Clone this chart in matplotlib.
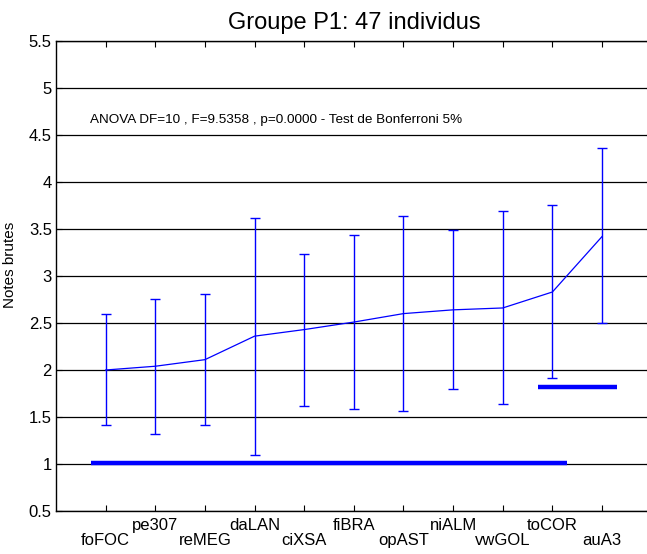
import matplotlib
matplotlib.use("Agg")
import matplotlib.pyplot as plt
from matplotlib.transforms import blended_transform_factory

# ---- data ------------------------------------------------------------------------------------
names = ["foFOC", "pe307", "reMEG", "daLAN", "ciXSA", "fiBRA",
         "opAST", "niALM", "vwGOL", "toCOR", "auA3"]
means = [2.00, 2.04, 2.11, 2.36, 2.43, 2.51, 2.60, 2.64, 2.66, 2.83, 3.42]
upper = [2.60, 2.76, 2.81, 3.62, 3.23, 3.44, 3.64, 3.49, 3.69, 3.76, 4.36]
lower = [1.41, 1.32, 1.41, 1.10, 1.62, 1.59, 1.56, 1.80, 1.64, 1.91, 2.50]

# Bonferroni homogeneous groups: first and last member (1-based), drawn level
grp_first = [1, 10]
grp_last  = [10, 11]
grp_level = [1.01, 1.82]

title = "Groupe P1: 47 individus"
note = "ANOVA DF=10 , F=9.5358 , p=0.0000 - Test de Bonferroni 5%"
yticks = [0.5, 1, 1.5, 2, 2.5, 3, 3.5, 4, 4.5, 5, 5.5]

# ---- figure -----------------------------------------------------------------------------------
plt.rcParams["font.family"] = ["Liberation Sans", "DejaVu Sans"]
BLUE = "#0000ff"
W, H = 647, 554
fig = plt.figure(figsize=(W / 100, H / 100), dpi=100)
# axes run 0..12 in x; right part falls outside the picture like the original
ax = fig.add_axes([56 / W, (H - 511) / H, 595.7 / W, 470 / H])

x = list(range(1, len(names) + 1))
yerr = [[m - l for m, l in zip(means, lower)], [u - m for m, u in zip(means, upper)]]

for y in yticks:
    ax.axhline(y, color="k", lw=0.9, zorder=1)

ax.plot(x, means, color=BLUE, lw=0.9, zorder=4)
ax.errorbar(x, means, yerr=yerr, fmt="none", ecolor=BLUE, elinewidth=1.0,
            capsize=3.8, capthick=1.0, zorder=5)

for a, b, lev in zip(grp_first, grp_last, grp_level):
    ax.plot([a - 0.3, b + 0.3], [lev, lev], color=BLUE, lw=3.2,
            solid_capstyle="butt", zorder=3)

ax.text(0.68, 4.66, note, fontsize=9.7, va="center", ha="left")

ax.set_xlim(0, 12)
ax.set_ylim(0.5, 5.5)
ax.set_yticks(yticks)
ax.set_yticklabels([f"{v:g}" for v in yticks])
ax.set_xticks(x)
ax.set_xticklabels([])
ax.tick_params(direction="in", length=4, width=0.8, top=True, right=True,
               labelsize=12, pad=3)
for s in ax.spines.values():
    s.set_linewidth(1.0)

# staggered category labels (two rows)
trans = blended_transform_factory(ax.transData, ax.transAxes)
for i, (xi, nm) in enumerate(zip(x, names)):
    yy = -0.047 if i % 2 == 0 else -0.015
    ax.text(xi, yy, nm, transform=trans, ha="center", va="top", fontsize=12)

ax.set_ylabel("Notes brutes", fontsize=11)
ax.yaxis.set_label_coords((17 - 56) / 595.7, (511 - 265) / 470)
ax.set_title(title, fontsize=17, pad=9)

fig.savefig("out.png", dpi=100)
